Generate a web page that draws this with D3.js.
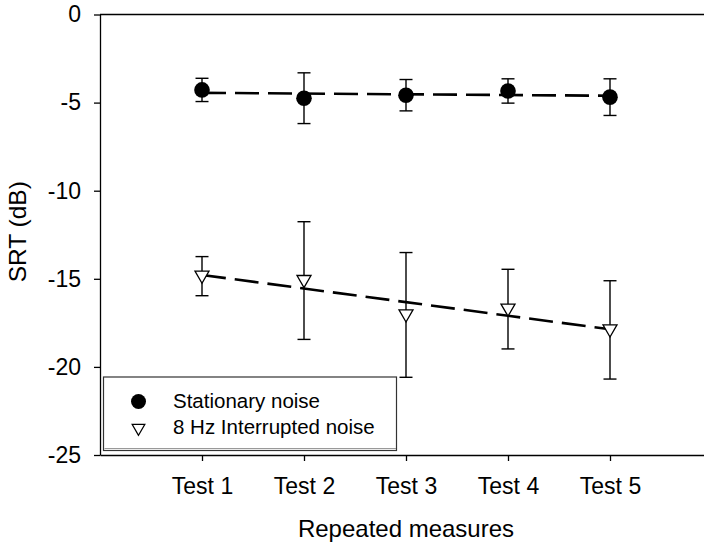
<!DOCTYPE html>
<html>
<head>
<meta charset="utf-8">
<script src="https://cdn.jsdelivr.net/npm/d3@7"></script>
<style>
  html, body { margin: 0; padding: 0; background: #fff; }
  svg { display: block; font-family: Arial, "Liberation Sans", sans-serif; }
</style>
</head>
<body>
<svg id="chart" width="704" height="545"></svg>
<script>
// ---- data ----
const categories = ["Test 1", "Test 2", "Test 3", "Test 4", "Test 5"];
const stationaryMean = [-4.28, -4.75, -4.58, -4.34, -4.69];
const stationarySD   = [0.66, 1.44, 0.89, 0.69, 1.04];
const interruptedMean = [-14.85, -15.10, -17.05, -16.72, -17.90];
const interruptedSD   = [1.11, 3.34, 3.54, 2.26, 2.79];
const yTicks = [0, -5, -10, -15, -20, -25];
const yTickLabels = ["0", "-5", "-10", "-15", "-20", "-25"];
const seriesNames = ["Stationary noise", "8 Hz Interrupted noise"];

const svg = d3.select("#chart");
const FONT = "Arial, 'Liberation Sans', sans-serif";

const x = d3.scaleLinear().domain([0, 6]).range([100, 712]);
const y = d3.scaleLinear().domain([-25, 0]).range([455, 14.5]);

// frame top line
svg.append("line")
  .attr("x1", x(0)).attr("x2", x(6))
  .attr("y1", y(0)).attr("y2", y(0))
  .attr("stroke", "#000").attr("stroke-width", 1.3);

// y axis
const gy = svg.append("g").attr("transform", `translate(${x(0)},0)`)
  .call(d3.axisLeft(y).tickValues(yTicks)
    .tickFormat((d, i) => yTickLabels[i])
    .tickSize(6).tickSizeOuter(0).tickPadding(13));
gy.selectAll("path, line").attr("stroke", "#000").attr("stroke-width", 1.3);
gy.selectAll("text").attr("font-size", 23).attr("fill", "#000").attr("font-family", FONT);

// x axis
const gx = svg.append("g").attr("transform", `translate(0,${y(-25)})`)
  .call(d3.axisBottom(x).tickValues([1, 2, 3, 4, 5])
    .tickFormat(d => categories[d - 1])
    .tickSize(6).tickSizeOuter(0).tickPadding(17));
gx.selectAll("path, line").attr("stroke", "#000").attr("stroke-width", 1.3);
gx.selectAll("text").attr("font-size", 23).attr("fill", "#000").attr("font-family", FONT);

// axis titles
svg.append("text")
  .attr("x", x(3)).attr("y", 537)
  .attr("text-anchor", "middle").attr("font-size", 24).attr("font-family", FONT)
  .text("Repeated measures");
svg.append("text")
  .attr("transform", `translate(26,${(y(0) + y(-25)) / 2 - 3}) rotate(-90)`)
  .attr("text-anchor", "middle").attr("font-size", 24.5).attr("font-family", FONT)
  .text("SRT (dB)");

// regression trend lines
function regression(vals) {
  const xs = vals.map((_, i) => i + 1);
  const mx = d3.mean(xs), my = d3.mean(vals);
  const b = d3.sum(xs.map((xi, i) => (xi - mx) * (vals[i] - my))) /
            d3.sum(xs.map(xi => (xi - mx) ** 2));
  const a = my - b * mx;
  return [[1, a + b], [5, a + 5 * b]];
}
const lineGen = d3.line().x(d => x(d[0])).y(d => y(d[1]));
[stationaryMean, interruptedMean].forEach(vals => {
  svg.append("path")
    .attr("d", lineGen(regression(vals)))
    .attr("fill", "none").attr("stroke", "#000")
    .attr("stroke-width", 2.6)
    .attr("stroke-dasharray", "24,9");
});

// error bars
function errorBars(means, sds) {
  const g = svg.append("g").attr("stroke", "#000").attr("stroke-width", 1.4);
  means.forEach((m, i) => {
    const cx = x(i + 1);
    const top = y(m + sds[i]), bot = y(m - sds[i]);
    g.append("line").attr("x1", cx).attr("x2", cx).attr("y1", top).attr("y2", bot);
    g.append("line").attr("x1", cx - 6.5).attr("x2", cx + 6.5).attr("y1", top).attr("y2", top);
    g.append("line").attr("x1", cx - 6.5).attr("x2", cx + 6.5).attr("y1", bot).attr("y2", bot);
  });
}
errorBars(stationaryMean, stationarySD);
errorBars(interruptedMean, interruptedSD);

// markers
const tri = d3.symbol().type(d3.symbolTriangle).size(85);
svg.append("g").selectAll("circle").data(stationaryMean).join("circle")
  .attr("cx", (d, i) => x(i + 1)).attr("cy", d => y(d))
  .attr("r", 7.8).attr("fill", "#000");
svg.append("g").selectAll("path").data(interruptedMean).join("path")
  .attr("d", tri)
  .attr("transform", (d, i) => `translate(${x(i + 1)},${y(d) - 1}) rotate(180)`)
  .attr("fill", "#fff").attr("stroke", "#000").attr("stroke-width", 1.3);

// legend
const lg = svg.append("g");
lg.append("rect")
  .attr("x", 103.5).attr("y", 377).attr("width", 293).attr("height", 73.5)
  .attr("fill", "#fff").attr("stroke", "#333").attr("stroke-width", 1.2);
lg.append("line").attr("x1", 104.5).attr("x2", 396).attr("y1", 448.5).attr("y2", 448.5)
  .attr("stroke", "#999").attr("stroke-width", 1);
lg.append("circle").attr("cx", 138.5).attr("cy", 401.5).attr("r", 7.5).attr("fill", "#000");
lg.append("path").attr("d", d3.symbol().type(d3.symbolTriangle).size(70))
  .attr("transform", "translate(138.5,428) rotate(180)")
  .attr("fill", "#fff").attr("stroke", "#000").attr("stroke-width", 1.2);
lg.selectAll("text.leg").data(seriesNames).join("text")
  .attr("class", "leg")
  .attr("x", 173).attr("y", (d, i) => 408 + i * 26)
  .attr("font-size", 20.5).attr("fill", "#000").attr("font-family", FONT)
  .text(d => d);
</script>
</body>
</html>
